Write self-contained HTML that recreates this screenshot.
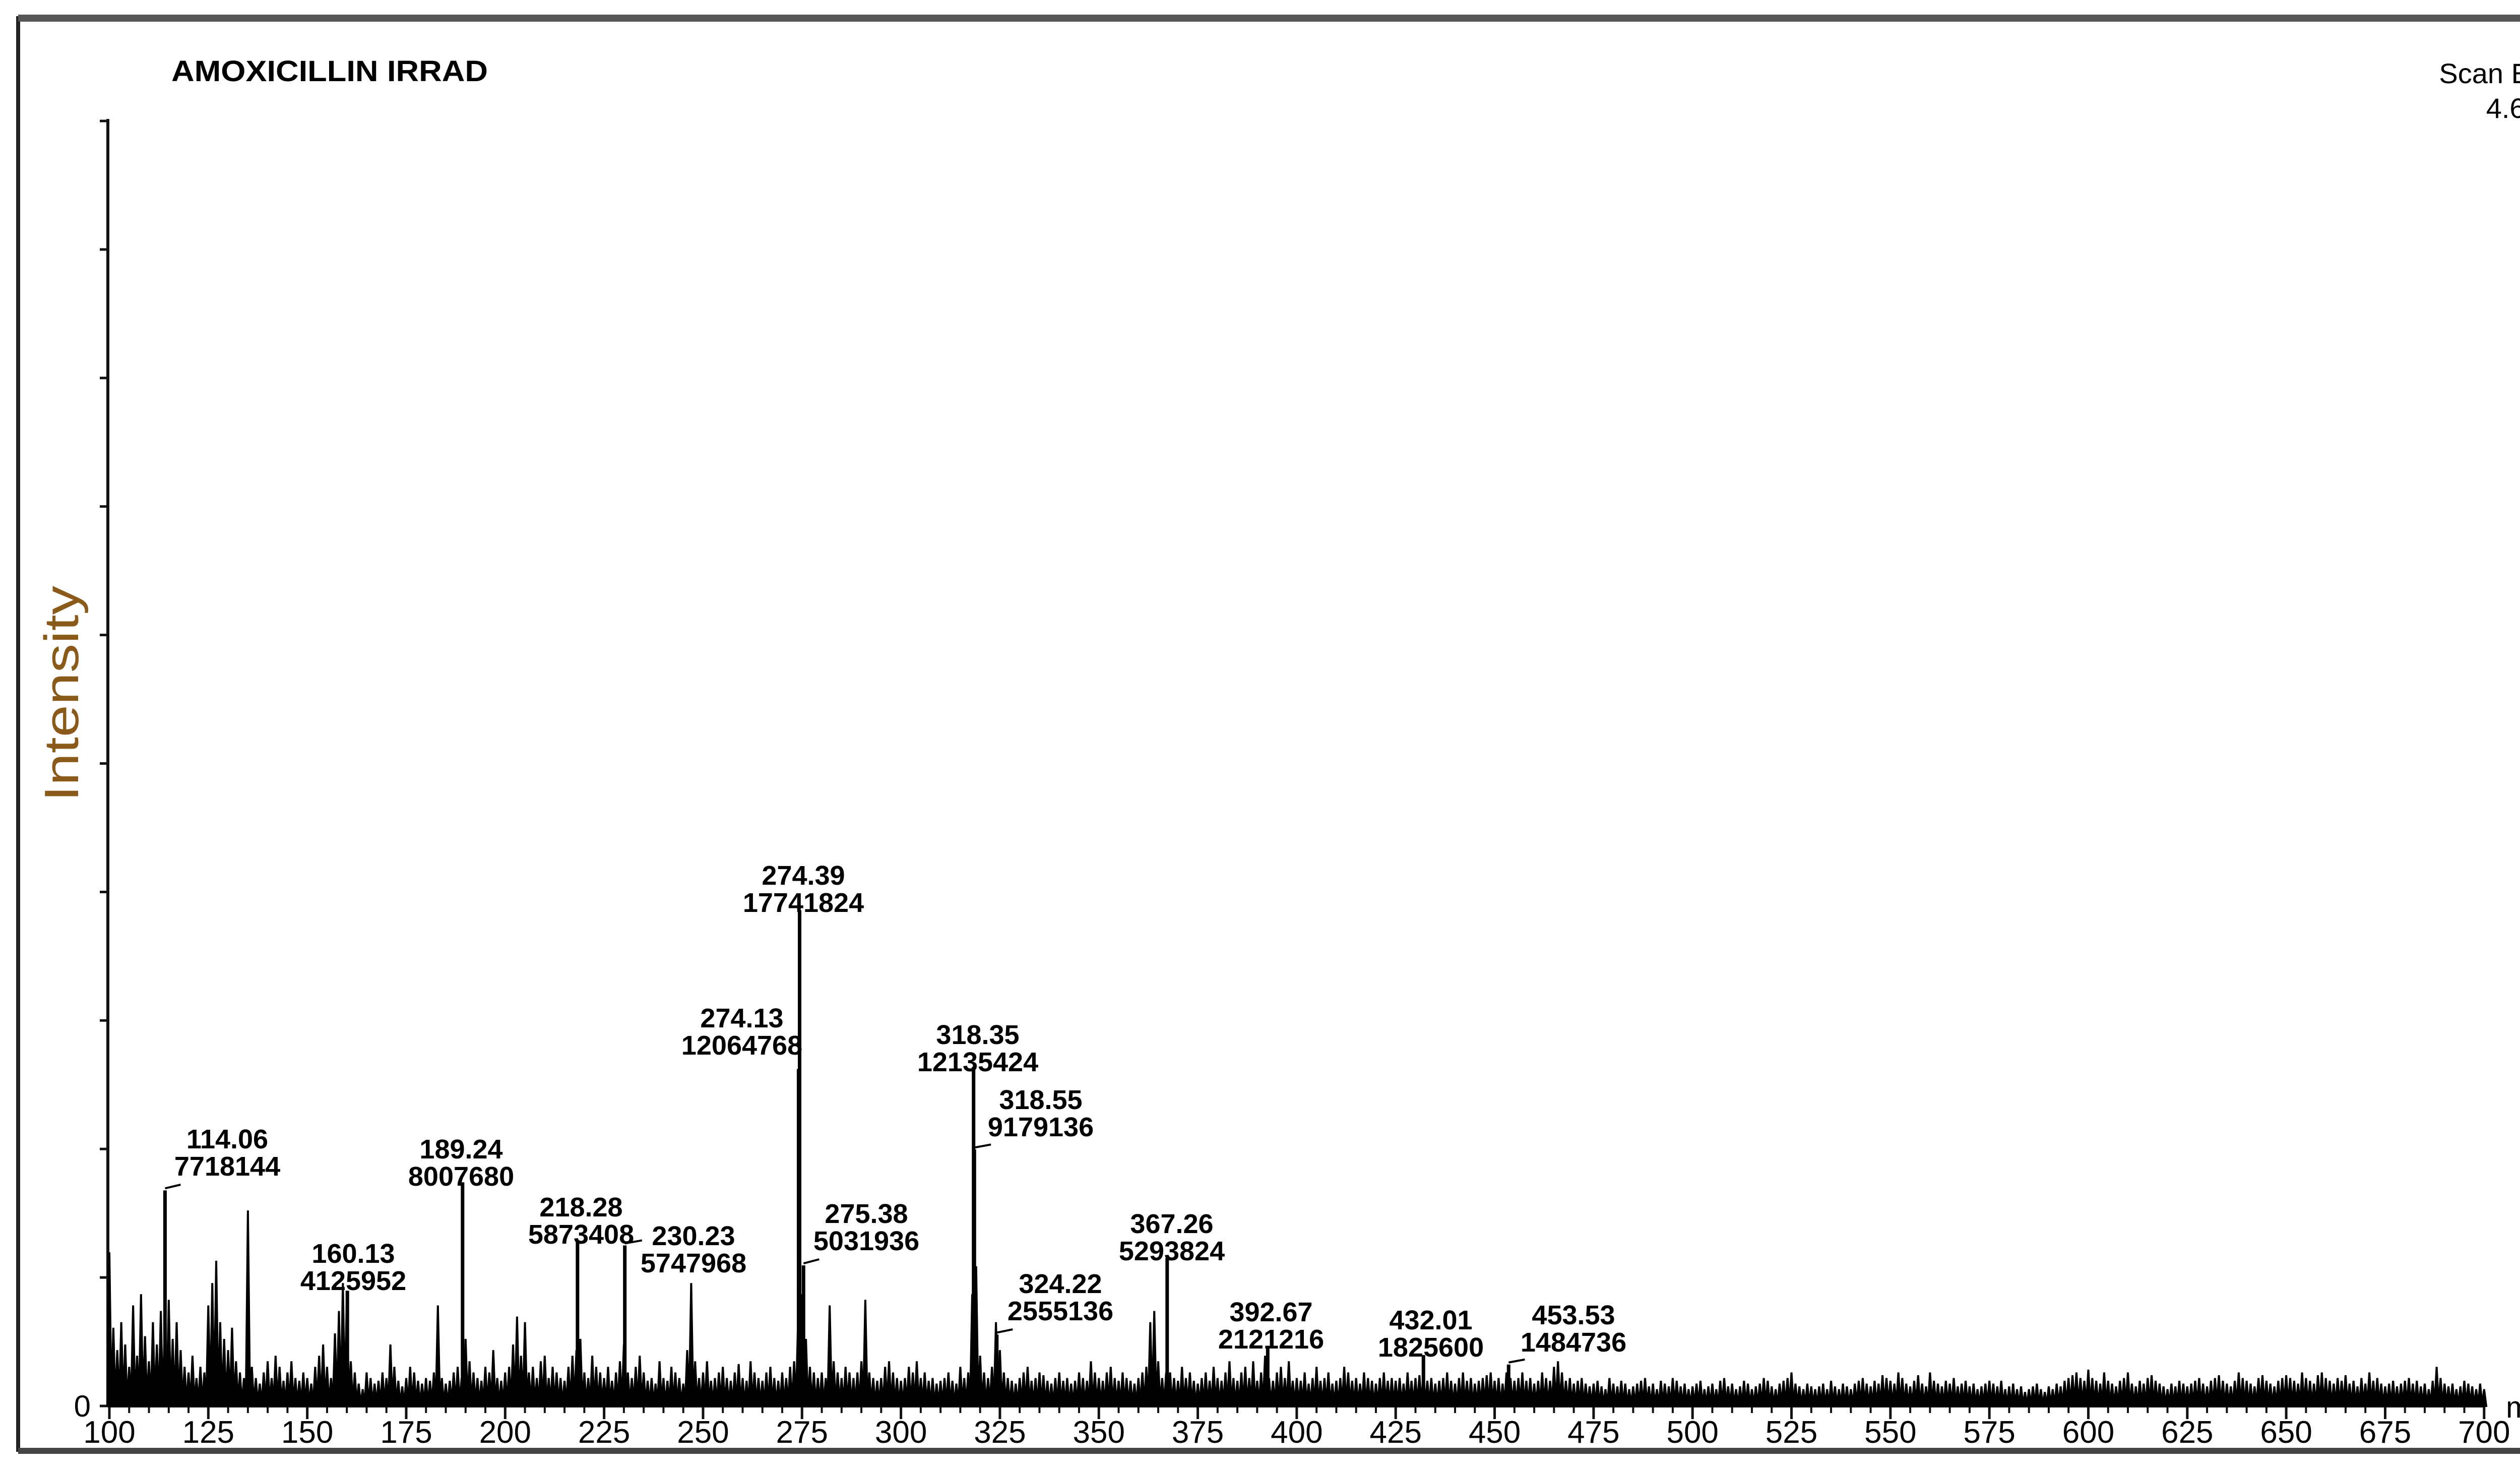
<!DOCTYPE html>
<html><head><meta charset="utf-8"><style>
html,body{margin:0;padding:0;background:#fff;overflow:hidden;}
svg{display:block;}
text{font-family:"Liberation Sans",Arial,sans-serif;}
</style></head><body>
<svg id="chart" width="5150" height="2916" viewBox="0 0 5150 2916" xmlns="http://www.w3.org/2000/svg">
<rect x="0" y="0" width="5150" height="2916" fill="#fff"/>
<rect x="36" y="36" width="5078" height="2840" fill="none" stroke="#222" stroke-width="8"/>
<line x1="36" y1="36" x2="5114" y2="36" stroke="#555" stroke-width="14"/>
<line x1="36" y1="2878" x2="5114" y2="2878" stroke="#444" stroke-width="12"/>
<text x="340" y="161" font-size="58" font-weight="bold" textLength="628" lengthAdjust="spacingAndGlyphs">AMOXICILLIN IRRAD</text>
<text x="5090" y="165" font-size="56" text-anchor="end">Scan ES+</text>
<text x="5104" y="234" font-size="56" text-anchor="end">4.60e7</text>
<text transform="translate(155,1376) rotate(-90)" font-size="96" text-anchor="middle" fill="#8a5a1a" textLength="428" lengthAdjust="spacingAndGlyphs">Intensity</text>
<text x="180" y="2810" font-size="60" text-anchor="end">0</text>
<text x="4972" y="2812" font-size="60">m/z</text>
<g id="axes"></g>
<g id="noise"></g>
<g id="peaks"></g>
<g id="labels"></g>
</svg>
<script>
// ---- data ----
const xTicks = [100,125,150,175,200,225,250,275,300,325,350,375,400,425,450,475,500,525,550,575,600,625,650,675,700];
const yMax = 4.60e7;
const peakMz = [114.06,160.13,189.24,218.28,230.23,274.13,274.39,275.38,318.35,318.55,324.22,367.26,392.67,432.01,453.53];
const peakInt = [7718144,4125952,8007680,5873408,5747968,12064768,17741824,5031936,12135424,9179136,2555136,5293824,2121216,1825600,1484736];
// label positions (layout, not data): centre x, first-line y
const labelX = [451,701,915,1153,1376,1472,1594,1719,1940,2065,2104,2325,2522,2839,3122];
const labelY = [2258,2485,2278,2393,2450,2018,1735,2406,2051,2180,2545,2426,2601,2617,2607];
// noise intensities (x1e5), one per m/z unit from 100
const noiseStart = 100;
const noise = [
55,28,20,30,22,14,36,18,40,25,16,30,22,34,28,38,24,30,20,14,12,18,10,14,12,
36,44,52,30,24,20,28,16,12,10,70,14,10,8,12,16,10,18,14,9,12,16,10,9,12,
10,8,14,18,22,14,10,26,34,44,40,16,12,8,6,12,10,8,9,12,10,22,14,9,7,
10,14,12,9,8,10,9,12,36,10,8,9,12,14,10,24,16,12,10,9,14,12,20,10,9,
12,14,22,32,18,30,12,14,10,16,18,10,14,12,10,9,14,18,20,24,12,10,18,14,12,
10,14,9,12,16,22,12,10,14,18,12,9,10,8,16,10,9,14,12,10,8,20,44,16,10,
12,16,9,10,12,14,10,9,12,15,10,9,16,12,10,9,12,14,10,9,12,10,14,16,30,
40,24,14,12,10,12,10,36,16,12,10,14,12,10,12,16,38,12,10,9,10,14,16,12,10,
9,10,14,12,16,10,12,9,10,8,9,10,12,9,8,14,10,12,40,50,18,12,10,14,30,
20,12,10,9,8,10,12,14,9,10,12,11,9,8,10,12,9,10,8,9,12,10,9,16,12,
10,9,12,14,10,9,12,10,9,8,10,12,14,30,34,16,10,12,12,10,9,14,10,12,9,
8,10,12,9,14,10,9,12,16,10,9,12,14,10,16,9,12,18,10,9,12,14,10,16,9,
10,9,12,8,10,14,9,10,12,8,9,10,14,12,9,10,8,12,10,9,8,10,12,9,10,
9,10,8,12,9,10,11,12,9,10,8,9,10,12,9,8,10,12,9,10,8,9,10,11,12,
9,10,8,12,10,9,10,12,9,10,8,9,12,10,9,14,16,12,9,10,8,9,10,8,7,
8,9,7,6,10,8,7,9,8,6,7,8,9,10,7,8,6,9,8,7,10,9,7,8,6,
7,8,9,6,7,8,6,9,10,7,8,6,7,9,8,6,7,8,10,9,7,6,8,9,10,
12,8,7,6,8,7,6,7,8,6,9,7,6,8,7,6,8,9,10,8,7,9,8,11,10,
9,8,12,10,8,7,9,11,8,7,12,9,8,7,9,8,10,7,8,9,7,8,6,7,8,
9,8,7,9,6,7,8,6,7,5,6,7,8,6,5,7,6,8,7,9,10,11,12,10,9,
13,10,9,8,12,9,8,7,9,10,12,8,7,9,8,10,11,9,8,7,6,8,7,9,8,
7,8,9,10,8,7,9,10,11,9,8,7,9,12,10,9,8,7,10,11,9,8,7,9,10,
11,10,9,8,12,10,9,8,11,12,10,9,8,10,9,11,8,9,7,10,8,12,9,10,8,
7,8,9,7,8,9,10,8,9,7,8,6,9,14,10,8,7,8,6,7,9,8,7,6,8,6
];
// ---- axis functions ----
const X0=217, PXU=7.853, Y0=2789, Y_TOP=240;
function xs(m){return X0+(m-100)*PXU;}
function ys(v){return Y0-(v/yMax)*(Y0-Y_TOP);}
const NS='http://www.w3.org/2000/svg';
function mk(tag,attrs,parent){const e=document.createElementNS(NS,tag);for(const k in attrs)e.setAttribute(k,attrs[k]);parent.appendChild(e);return e;}
const axes=document.getElementById('axes');
let a=mk('line',{x1:214,y1:Y_TOP-4,x2:214,y2:Y0,stroke:'#111','stroke-width':6},axes);


a=mk('line',{x1:214,y1:Y0,x2:xs(700),y2:Y0,stroke:'#111','stroke-width':6},axes);


for(let i=0;i<=10;i++){
  const y=ys(yMax*i/10);
  const t=mk('line',{x1:198,y1:y,x2:214,y2:y,stroke:'#111','stroke-width':5},axes);
  
  
}
for(let m=100;m<=700;m+=5){
  const major=(m%25===0);
  const t=mk('line',{x1:xs(m),y1:Y0,x2:xs(m),y2:Y0+(major?26:14),stroke:'#111','stroke-width':major?5:4},axes);
  
  
}
xTicks.forEach(m=>{
  const t=mk('text',{x:xs(m),y:2862,'font-size':62,'text-anchor':'middle'},axes);
  t.textContent=String(m);
  
  
});
// noise spectrum
const ng=document.getElementById('noise');
let d='';
noise.forEach((v,i)=>{
  const m=noiseStart+i, x=xs(m), y=ys(v*1e5);
  d+=`M${(x-4.2).toFixed(1)},${Y0} L${x.toFixed(1)},${y.toFixed(1)} L${(x+4.2).toFixed(1)},${Y0} Z `;
});
const np=mk('path',{d:d,fill:'#000',stroke:'#000','stroke-width':4,'stroke-linejoin':'miter'},ng);


// labeled peaks
const pg=document.getElementById('peaks'), lg=document.getElementById('labels');
peakMz.forEach((m,i)=>{
  const x=xs(m), y=ys(peakInt[i]);
  const p=mk('line',{x1:x,y1:Y0,x2:x,y2:y,stroke:'#000','stroke-width':7},pg);
  
  
  const t1=mk('text',{x:labelX[i],y:labelY[i]+20,'font-size':54,'font-weight':'bold','text-anchor':'middle'},lg);
  t1.textContent=m.toFixed(2);
  
  
  const t2=mk('text',{x:labelX[i],y:labelY[i]+74,'font-size':54,'font-weight':'bold','text-anchor':'middle'},lg);
  t2.textContent=String(peakInt[i]);
  
  
  const ly=labelY[i]+92;
  if(y-ly>20 || Math.abs(labelX[i]-x)>120){
    const l=mk('line',{x1:x,y1:y-4,x2:x+(labelX[i]-x)*0.25,y2:Math.min(ly, y-10),stroke:'#000','stroke-width':4},lg);
    
    
  }
});
</script>
</body></html>
